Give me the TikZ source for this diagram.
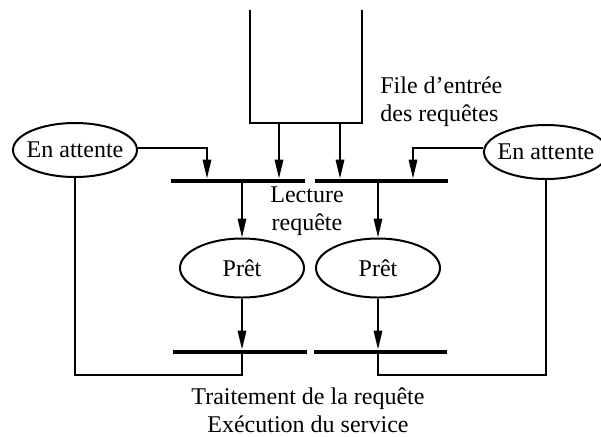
\documentclass[tikz,border=0pt]{standalone}
\usepackage{fontspec}
\setmainfont{Liberation Serif}
\usetikzlibrary{arrows.meta,shapes.geometric}
\tikzset{
  state/.style={ellipse, draw, line width=1pt, inner sep=0pt, minimum width=62pt, minimum height=27pt, label={[font=\fontsize{12}{14}\selectfont, inner sep=0pt]center:#1}},
  bar/.style={fill=black, inner sep=0pt, minimum height=2pt},
  arr/.style={line width=1pt, -{Triangle[length=9.5pt,width=4.2pt]}},
  thin line/.style={line width=0.65pt},
  queue/.style={line width=1.4pt},
  lbl/.style={font=\fontsize{12}{14}\selectfont, align=center, inner sep=0pt}
}
\begin{document}
\begin{tikzpicture}[x=0.5pt,y=-0.5pt]
\useasboundingbox (0,0) rectangle (601,436);
% queue
\coordinate (qtl) at (250,10);
\coordinate (qbl) at (250,123);
\coordinate (qbr) at (362,123);
\coordinate (qtr) at (362,10);
\draw[queue] (qtl) -- (qbl) -- (qbr) -- (qtr);
\coordinate (q1) at (279,123);
\coordinate (q2) at (340,123);
% states
\node[state=En attente] (att1) at (75,150) {};
\node[state=En attente] (att2) at (546,152) {};
\node[state=Prêt, minimum height=29.5pt] (pret1) at (242,268) {};
\node[state=Prêt, minimum height=29.5pt] (pret2) at (378,268) {};
% transitions
\node[bar, minimum width=67pt] (b1) at (238,181) {};
\node[bar, minimum width=66.5pt] (b2) at (381.5,181) {};
\node[bar, minimum width=67pt] (c1) at (240,352) {};
\node[bar, minimum width=66.5pt] (c2) at (380.5,352) {};
% x positions of arrows
\coordinate (x1) at (207,0);
\coordinate (x2) at (413,0);
\coordinate (bot) at (0,375);
% labels
\node[lbl, anchor=north west, align=left] (file) at (380,76) {File d’entrée\\des requêtes};
\node[lbl] (lect) at (307,211) {Lecture\\requête};
\node[lbl] (trait) at (308,410) {Traitement de la requête\\Exécution du service};
% arcs
\draw[arr] (q1) -- (b1.north -| q1);
\draw[arr] (q2) -- (b2.north -| q2);
\draw[arr] (att1.east |- 0,148) -| (b1.north -| x1);
\draw[arr] (att2.west |- 0,148) -| (b2.north -| x2);
\draw[arr] (b1.south -| pret1) -- (pret1.north);
\draw[arr] (b2.south -| pret2) -- (pret2.north);
\draw[arr] (pret1.south) -- (c1.north -| pret1);
\draw[arr] (pret2.south) -- (c2.north -| pret2);
\draw[thin line] (att1.south) -- (att1.south |- bot) -| (c1.south -| pret1);
\draw[thin line] (att2.south) -- (att2.south |- bot) -| (c2.south -| pret2);
\end{tikzpicture}
\end{document}
